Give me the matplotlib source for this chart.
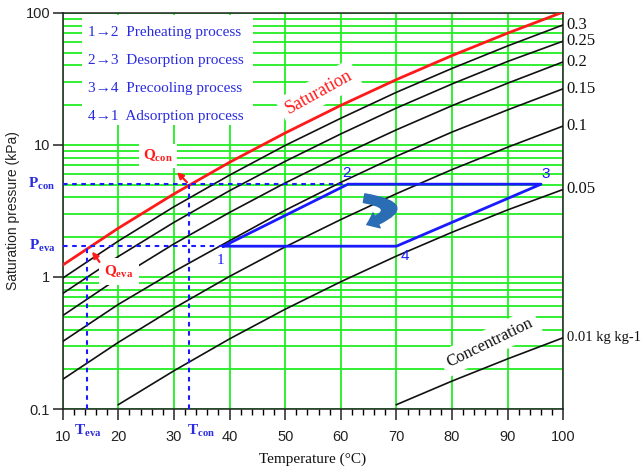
import matplotlib
matplotlib.use('Agg')
import matplotlib.pyplot as plt
import matplotlib.transforms as mtransforms
from matplotlib.patches import FancyArrowPatch, Rectangle
from matplotlib.ticker import FixedLocator, MultipleLocator, NullFormatter, LogLocator

plt.rcParams['mathtext.fontset'] = 'custom'
plt.rcParams['mathtext.rm'] = 'Liberation Serif'
plt.rcParams['mathtext.it'] = 'Liberation Serif:italic'
plt.rcParams['mathtext.bf'] = 'Liberation Serif:bold'

# ---------------- data ----------------
temps = [10, 20, 30, 40, 50, 60, 70, 80, 90, 100]
sat_p = [1.23, 2.34, 4.25, 7.38, 12.3, 19.9, 31.2, 47.4, 70.1, 101.3]
p_030 = [0.98, 1.87, 3.40, 5.90, 9.90, 15.9, 25.0, 37.9, 56.1, 81.0]
p_025 = [0.75, 1.43, 2.59, 4.50, 7.50, 12.1, 19.0, 28.9, 42.8, 61.0]
p_020 = [0.51, 0.98, 1.78, 3.08, 5.15, 8.30, 13.0, 19.8, 29.3, 42.5]
p_015 = [0.325, 0.62, 1.10, 1.88, 3.20, 5.20, 8.20, 12.5, 18.4, 26.6]
p_010 = [0.168, 0.32, 0.58, 1.01, 1.69, 2.72, 4.27, 6.50, 9.60, 13.9]
temps_005 = [20, 30, 40, 50, 60, 70, 80, 90, 100]
p_005 = [0.108, 0.195, 0.34, 0.57, 0.92, 1.44, 2.18, 3.22, 4.60]
temps_001 = [70, 80, 90, 100]
p_001 = [0.108, 0.163, 0.24, 0.347]
conc_labels = ['0.3', '0.25', '0.2', '0.15', '0.1', '0.05', '0.01 kg kg-1']

cycle_T = [38.9, 61.3, 96.0, 70.0, 38.9]
cycle_P = [1.71, 5.04, 5.04, 1.71, 1.71]
cycle_labels = ['1', '2', '3', '4']
P_con, P_eva = 5.04, 1.71
T_con, T_eva = 32.7, 14.3
legend_lines = [u'1\u21922  Preheating process', u'2\u21923  Desorption process',
                u'3\u21924  Precooling process', u'4\u21921  Adsorption process']

x_ticks = [10, 20, 30, 40, 50, 60, 70, 80, 90, 100]
y_ticks = [0.1, 1, 10, 100]
y_ticklabels = ['0.1', '1', '10', '100']

# ---------------- styling ----------------
GREEN = '#22ee22'
BLUE = '#1a1aff'
TBLUE = '#2a2ae0'
RED = '#ff1a1a'
SERIF = 'Liberation Serif'
SANS = 'Liberation Sans'

fig = plt.figure(figsize=(6.43, 4.67), dpi=100)
ax = fig.add_axes([0.0975, 0.124, 0.7785, 0.8487])
ax.set_yscale('log')
ax.set_xlim(10, 100)
ax.set_ylim(0.1, 100)

ax.set_axisbelow(True)
ax.xaxis.set_major_locator(FixedLocator(x_ticks))
ax.xaxis.set_minor_locator(MultipleLocator(2))
ax.yaxis.set_major_locator(FixedLocator(y_ticks))
ax.yaxis.set_minor_locator(LogLocator(base=10, subs=range(2, 10)))
ax.yaxis.set_minor_formatter(NullFormatter())
ax.set_yticklabels(y_ticklabels)
ax.xaxis.grid(True, which='major', color=GREEN, lw=1.3)
ax.yaxis.grid(True, which='both', color=GREEN, lw=1.3)
ax.tick_params(axis='x', which='major', direction='out', length=8, width=1.1, pad=7,
               labelsize=10.5, colors='#222')
ax.tick_params(axis='x', which='minor', direction='out', length=4.5, width=1.0)
ax.tick_params(axis='y', which='major', direction='out', length=7, width=1.1, pad=2,
               labelsize=10.5, colors='#222')
ax.tick_params(axis='y', which='minor', length=0)
for lab in ax.get_xticklabels() + ax.get_yticklabels():
    lab.set_fontfamily(SANS)
for s in ax.spines.values():
    s.set_color('#222')
    s.set_linewidth(1.1)

ax.set_xlabel(u'Temperature (\u00b0C)', fontfamily=SERIF, fontsize=11, color='#111', labelpad=6)
ax.set_ylabel('Saturation pressure (kPa)', fontfamily=SANS, fontsize=10, color='#222', labelpad=4)

# ---------------- curves ----------------
ax.plot(temps, sat_p, color=RED, lw=2, zorder=4)
series = [(temps, p_030), (temps, p_025), (temps, p_020), (temps, p_015), (temps, p_010),
          (temps_005, p_005), (temps_001, p_001)]
for (tt, pp), lab in zip(series, conc_labels):
    ax.plot(tt, pp, color='#111', lw=1.2, zorder=4)
    ax.annotate(lab, xy=(tt[-1], pp[-1]), xytext=(2.5, 0), textcoords='offset points',
                va='center', ha='left', fontfamily=SERIF,
                fontsize=10.5 if len(lab) > 4 else 12, color='#111',
                annotation_clip=False)

# ---------------- cycle ----------------
ax.plot(cycle_T, cycle_P, color=BLUE, lw=2, zorder=5)
dash = dict(color=BLUE, lw=1.5, ls=(0, (2.2, 2.2)), zorder=4.5)
ax.plot([10, cycle_T[1]], [P_con, P_con], **dash)
ax.plot([10, cycle_T[0]], [P_eva, P_eva], **dash)
ax.plot([T_con, T_con], [0.1, P_con], **dash)
ax.plot([T_eva, T_eva], [0.1, P_eva], **dash)

num_pos = [(38.3, 1.34), (61.0, 6.13), (96.9, 6.0), (71.6, 1.44)]
for lab, (tx, py) in zip(cycle_labels, num_pos):
    ax.text(tx, py, lab, color=BLUE, fontsize=11, ha='center', va='center',
            fontfamily=SERIF if lab == '1' else SANS, zorder=6)

# axis labels P_con etc.
bt = mtransforms.blended_transform_factory(ax.transAxes, ax.transData)
ax.text(-0.043, P_con, r'$\mathbf{P_{con}}$', transform=bt, color=TBLUE, fontsize=11,
        ha='center', va='center', clip_on=False)
ax.text(-0.040, P_eva, r'$\mathbf{P_{eva}}$', transform=bt, color=TBLUE, fontsize=11,
        ha='center', va='center', clip_on=False)
bt2 = mtransforms.blended_transform_factory(ax.transData, ax.transAxes)
ax.text(14.5, -0.055, r'$\mathbf{T_{eva}}$', transform=bt2, color=TBLUE, fontsize=11,
        ha='center', va='center', clip_on=False)
ax.text(34.9, -0.055, r'$\mathbf{T_{con}}$', transform=bt2, color=TBLUE, fontsize=11,
        ha='center', va='center', clip_on=False)

# legend block
ax.add_patch(Rectangle((0.0386, 0.717), 0.341, 0.277, transform=ax.transAxes,
                       facecolor='white', edgecolor='none', zorder=2))
for i, line in enumerate(legend_lines):
    ax.text(0.0505, 0.949 - i * 0.0703, line, transform=ax.transAxes, color=TBLUE,
            fontsize=11, fontfamily=[SERIF, 'DejaVu Serif'], ha='left', va='center', zorder=3)

# Saturation / Concentration labels
ax.text(56.0, 25.1, 'Saturation', color=RED, fontsize=13, fontfamily=SERIF, rotation=29,
        ha='center', va='center', rotation_mode='anchor', zorder=3,
        bbox=dict(facecolor='white', edgecolor='none', pad=4))
ax.text(86.8, 0.32, 'Concentration', color='#111', fontsize=12, fontfamily=SERIF, rotation=26,
        ha='center', va='center', rotation_mode='anchor', zorder=3,
        bbox=dict(facecolor='white', edgecolor='none', pad=4))

# Q labels and arrows
ax.text(27.1, 8.2, r'$\mathbf{Q_{con}}$', color=RED, fontsize=11, ha='center', va='center',
        zorder=6, bbox=dict(facecolor='white', edgecolor='none', pad=3))
ax.text(20.1, 1.10, r'$\mathbf{Q_{eva}}$', color=RED, fontsize=11, ha='center', va='center',
        zorder=6, bbox=dict(facecolor='white', edgecolor='none', pad=4))
ax.annotate('', xy=(30.2, 6.43), xytext=(T_con, P_con),
            arrowprops=dict(arrowstyle='-|>', color=RED, lw=1.6, mutation_scale=9), zorder=6)
ax.annotate('', xy=(15.0, 1.62), xytext=(16.9, 1.25),
            arrowprops=dict(arrowstyle='-|>', color=RED, lw=1.6, mutation_scale=9), zorder=6)

# curly blue arrow
curl = FancyArrowPatch((63.7, 3.98), (64.2, 2.45), connectionstyle='arc3,rad=-1.9',
                       arrowstyle='simple,head_length=0.55,head_width=0.85,tail_width=0.45',
                       mutation_scale=14, color='#2a6db5', zorder=6)
ax.add_patch(curl)

fig.savefig('out.png', dpi=100)
